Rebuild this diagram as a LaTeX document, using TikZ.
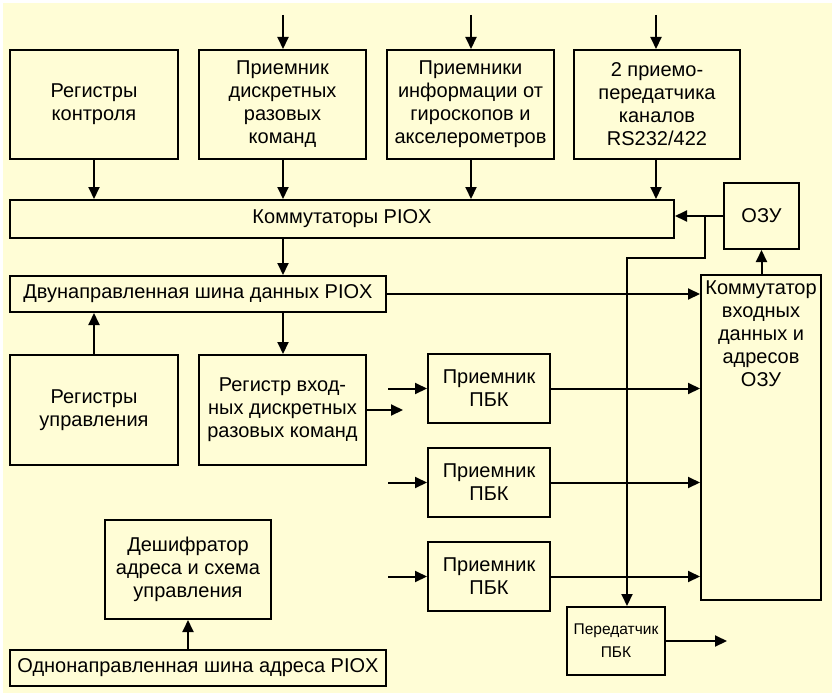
\documentclass[tikz,border=0pt]{standalone}
\usepackage{fontspec}
\setmainfont{Liberation Sans}
\usetikzlibrary{arrows.meta}
\definecolor{cream}{HTML}{FFFDD6}
\begin{document}
\begin{tikzpicture}[x=1pt, y=-1pt,
				every node/.style={font=\fontsize{20}{23}\selectfont},
				blk/.style={draw, line width=2pt, align=center, inner sep=2pt},
				arr/.style={line width=2pt, -{Triangle[length=12pt, width=11pt]}},
				ln/.style={line width=2pt}
				]
				\useasboundingbox (0,0) rectangle (832,693);
				\fill[cream] (3,3) rectangle (832,693);
				% upper row
				\node[blk, minimum width=168, minimum height=109] (rk) at (94,104.5) {Регистры\\контроля};
				\node[blk, minimum width=167, minimum height=109] (prm) at (282.5,104.5) {Приемник\\дискретных\\разовых\\команд};
				\node[blk, minimum width=167, minimum height=109] (gir) at (470.5,104.5) {Приемники\\информации от\\гироскопов и\\акселерометров};
				\node[blk, minimum width=166, minimum height=109] (rs) at (657,104.5) {2 приемо-\\передатчика\\каналов\\RS232/422};
				\node[blk, minimum width=664, minimum height=38] (kom) at (342,219) {Коммутаторы PIOX};
				\node[blk, minimum width=75, minimum height=66] (ozu) at (761.5,216) {ОЗУ};
				\node[blk, minimum width=376, minimum height=36] (dvu) at (198,294) {Двунаправленная шина данных PIOX};
				\node[blk, minimum width=120, minimum height=325,
					label={[align=center, anchor=north, yshift=-3pt]north:{Коммутатор\\входных\\данных и\\адресов\\ОЗУ}}] (kvd) at (761,437.5) {};
				% lower part
				\node[blk, minimum width=168, minimum height=110] (ru) at (94,410) {Регистры\\управления};
				\node[blk, minimum width=167, minimum height=110] (rvd) at (282.5,410) {Регистр вход-\\ных дискретных\\разовых команд};
				\foreach \n/\y in {1/388.5, 2/482.5, 3/576.5}
					\node[blk, minimum width=122, minimum height=69] (pr\n) at (489,\y) {Приемник\\ПБК};
				\node[blk, minimum width=166, minimum height=99] (desh) at (188,569.5) {Дешифратор\\адреса и схема\\управления};
				\node[blk, minimum width=376, minimum height=36] (onh) at (198,668) {Однонаправленная шина адреса PIOX};
				\node[blk, minimum width=98, minimum height=68, inner sep=1pt, font=\fontsize{15.5}{23}\selectfont] (prd) at (616,641) {Передатчик\\ПБК};
				% free ends
				\coordinate (in2) at (283,15);
				\coordinate (in3) at (471,15);
				\coordinate (in4) at (656,15);
				\coordinate (j1) at (705,216);
				\coordinate (j2) at (705,258);
				\coordinate (j3) at (627,258);
				\coordinate (outr) at (403,410);
				\coordinate (out) at (727,641);
				% connectors
				\draw[arr] (in2) -- (in2 |- prm.north);
				\draw[arr] (in3) -- (in3 |- gir.north);
				\draw[arr] (in4) -- (in4 |- rs.north);
				\draw[arr] (rk.south) -- (rk.south |- kom.north);
				\draw[arr] (in2 |- prm.south) -- (in2 |- kom.north);
				\draw[arr] (in3 |- gir.south) -- (in3 |- kom.north);
				\draw[arr] (in4 |- rs.south) -- (in4 |- kom.north);
				\draw[arr] (ozu.west) -- (ozu.west -| kom.east);
				\draw[arr] (j1) -- (j2) -- (j3) -- (j3 |- prd.north);
				\draw[arr] (in2 |- kom.south) -- (in2 |- dvu.north);
				\draw[arr] (dvu.east) -- (dvu.east -| kvd.west);
				\draw[arr] (kvd.north -| ozu.south) -- (ozu.south);
				\draw[arr] (ru.north) -- (ru.north |- dvu.south);
				\draw[arr] (in2 |- dvu.south) -- (in2 |- rvd.north);
				\draw[arr] (rvd.east) -- (outr);
				\foreach \n in {1,2,3} {
					\coordinate (inp\n) at ([xshift=-39pt]pr\n.west);
					\draw[arr] (inp\n) -- (pr\n.west);
					\draw[arr] (pr\n.east) -- (pr\n.east -| kvd.west);
				}
				\draw[arr] (onh.north -| desh.south) -- (desh.south);
				\draw[arr] (prd.east) -- (out);
			\end{tikzpicture}
\end{document}
